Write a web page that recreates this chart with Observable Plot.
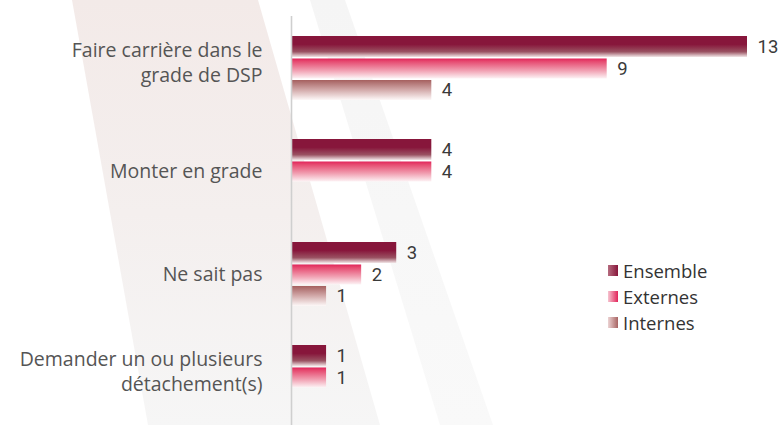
<!DOCTYPE html>
<html>
<head>
<meta charset="utf-8">
<script src="https://cdn.jsdelivr.net/npm/d3@7"></script>
<script src="https://cdn.jsdelivr.net/npm/@observablehq/plot@0.6"></script>
<style>
  html, body { margin: 0; padding: 0; background: #fff; }
  #wrap { position: relative; width: 781px; height: 425px; overflow: hidden; }
  #bg { position: absolute; left: 0; top: 0; }
  #chart { position: absolute; left: 0; top: 0; }
  #legend { position: absolute; left: 608px; top: 257px; font-family: "Open Sans", sans-serif; font-size: 18.5px; color: #333; }
  #legend .item { display: flex; align-items: center; height: 26px; }
  #legend .sw { width: 10px; height: 11px; margin-right: 5px; }
</style>
</head>
<body>
<div id="wrap">
  <svg id="bg" width="781" height="425">
    <defs>
      <linearGradient id="bandA" x1="0" y1="0" x2="0" y2="1">
        <stop offset="0" stop-color="#f3eae8"/>
        <stop offset="0.5" stop-color="#f4efee"/>
        <stop offset="1" stop-color="#f6f6f6"/>
      </linearGradient>
      <linearGradient id="bandB" x1="0" y1="0" x2="0" y2="1">
        <stop offset="0" stop-color="#f5f5f5"/>
        <stop offset="1" stop-color="#f9f9f9"/>
      </linearGradient>
      <linearGradient id="gEnsemble" x1="0" y1="0" x2="0" y2="1">
        <stop offset="0" stop-color="#87163b"/>
        <stop offset="0.4" stop-color="#87163b"/>
        <stop offset="0.75" stop-color="#9a5262"/>
        <stop offset="1" stop-color="#f2e6e7"/>
      </linearGradient>
      <linearGradient id="gExternes" x1="0" y1="0" x2="0" y2="1">
        <stop offset="0" stop-color="#e2245a"/>
        <stop offset="0.15" stop-color="#e64a70"/>
        <stop offset="0.6" stop-color="#f1a0b2"/>
        <stop offset="1" stop-color="#fdf3f5"/>
      </linearGradient>
      <linearGradient id="gInternes" x1="0" y1="0" x2="0" y2="1">
        <stop offset="0" stop-color="#a5605f"/>
        <stop offset="0.5" stop-color="#d3abab"/>
        <stop offset="1" stop-color="#fdf8f8"/>
      </linearGradient>
    </defs>
    <polygon points="72,0 258,0 380,425 148,425" fill="url(#bandA)"/>
    <polygon points="310,0 345,0 493,425 440,425" fill="url(#bandB)"/>
  </svg>
  <div id="chart"></div>
  <div id="legend"></div>
</div>
<script>
// ---- Data ----
const categories = [
  "Faire carrière dans le grade de DSP",
  "Monter en grade",
  "Ne sait pas",
  "Demander un ou plusieurs détachement(s)"
];
const categoryLabels = [
  "Faire carrière dans le\ngrade de DSP",
  "Monter en grade",
  "Ne sait pas",
  "Demander un ou plusieurs\ndétachement(s)"
];
const series = ["Ensemble", "Externes", "Internes"];
const ensemble = [13, 4, 3, 1];
const externes = [9, 4, 2, 1];
const internes = [4, 0, 1, 0];

// ---- Build table ----
const valuesBySeries = {Ensemble: ensemble, Externes: externes, Internes: internes};
const rows = [];
series.forEach(s => categories.forEach((c, i) => rows.push({category: c, series: s, value: valuesBySeries[s][i]})));
const labelRows = categories.map((c, i) => ({category: c, label: categoryLabels[i], multi: categoryLabels[i].includes("\n")}));

// per-series placement inside each category band (style only)
const slot = {
  Ensemble: {insetTop: 0, insetBottom: 43, dy: -21.5, fill: "url(#gEnsemble)"},
  Externes: {insetTop: 22.5, insetBottom: 21.5, dy: 0.5, fill: "url(#gExternes)"},
  Internes: {insetTop: 44, insetBottom: 0, dy: 22, fill: "url(#gInternes)"}
};

const labelFont = "Open Sans, sans-serif";
const marks = [];
for (const s of series) {
  const data = rows.filter(d => d.series === s && d.value > 0);
  marks.push(Plot.barX(data, {x: "value", y: "category", fill: slot[s].fill,
    insetTop: slot[s].insetTop, insetBottom: slot[s].insetBottom}));
  marks.push(Plot.text(data, {x: "value", y: "category", text: d => String(d.value),
    dx: 10, dy: slot[s].dy, textAnchor: "start", fill: "#3a3a3a",
    fontSize: 18.5, fontFamily: "Roboto, sans-serif"}));
}
marks.push(Plot.ruleX([0], {stroke: "#cfcfcf", strokeWidth: 1.6}));
marks.push(Plot.text(labelRows.filter(d => !d.multi), {x: 0, y: "category", text: "label",
  dx: -29, dy: 0, textAnchor: "end", fill: "#555", fontSize: 19.5, fontFamily: labelFont}));
marks.push(Plot.text(labelRows.filter(d => d.multi), {x: 0, y: "category", text: "label",
  dx: -29, dy: -7, lineHeight: 1.27, textAnchor: "end", fill: "#555", fontSize: 19.5, fontFamily: labelFont}));

const chart = Plot.plot({
  width: 781,
  height: 425,
  marginTop: 16,
  marginBottom: 0,
  marginLeft: 291,
  marginRight: 34,
  style: {background: "transparent", overflow: "visible"},
  x: {domain: [0, d3.max(rows, d => d.value)], axis: null},
  y: {domain: categories, paddingInner: 0.3827, paddingOuter: 0.164, align: 0.56, axis: null},
  marks
});
document.getElementById("chart").appendChild(chart);

// ---- Legend ----
const swatch = {
  Ensemble: "linear-gradient(to right, #b56b7e, #87163b)",
  Externes: "linear-gradient(to right, #f6c4d0, #e2245a)",
  Internes: "linear-gradient(to right, #ecd3d3, #a86463)"
};
const legend = d3.select("#legend");
series.forEach(s => {
  const it = legend.append("div").attr("class", "item");
  it.append("div").attr("class", "sw").style("background", swatch[s]);
  it.append("span").text(s);
});
</script>
</body>
</html>
